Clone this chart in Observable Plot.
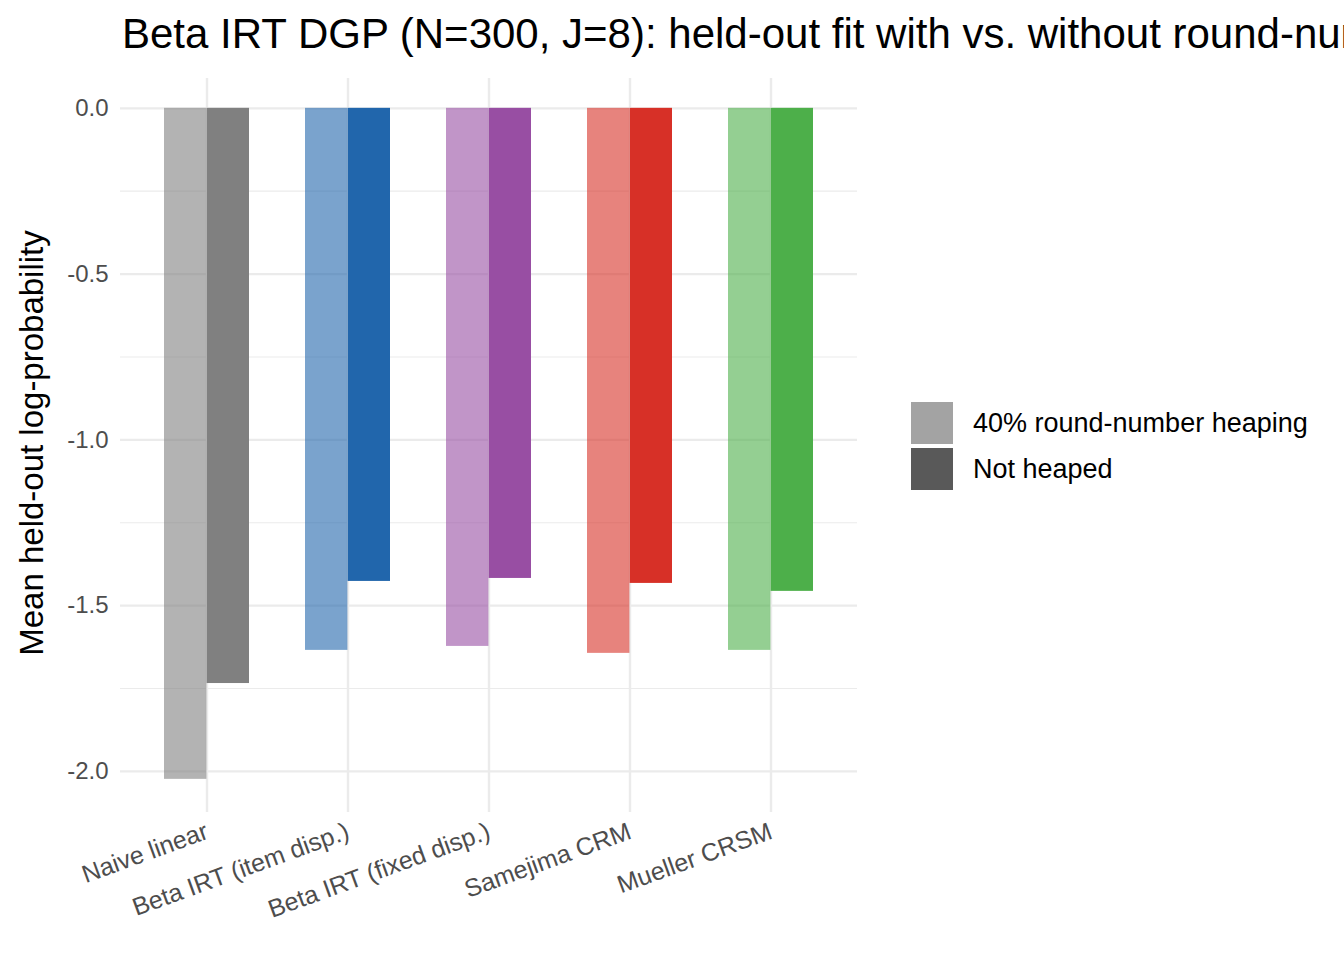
<!DOCTYPE html>
<html><head><meta charset="utf-8">
<script src="https://cdn.jsdelivr.net/npm/d3@7"></script>
<script src="https://cdn.jsdelivr.net/npm/@observablehq/plot@0.6"></script>
<style>
body{margin:0;background:#fff;font-family:"Liberation Sans",Arial,sans-serif;}
#wrap{position:relative;width:1344px;height:960px;overflow:hidden;}
#title{position:absolute;left:122px;top:10px;white-space:nowrap;color:#000;font-size:42px;}
#legend{position:absolute;left:911px;top:400px;font-size:27px;color:#000;}
.row{display:flex;align-items:center;height:46px;}
.sw{width:42px;height:42px;margin-right:20px;}
#chart{position:absolute;left:0;top:0;}
#ylab{position:absolute;left:32px;top:443px;transform:translate(-50%,-50%) rotate(-90deg);white-space:nowrap;font-size:33px;color:#000;}
</style></head><body>
<div id="wrap"><div id="chart"></div>
<div id="title">Beta IRT DGP (N=300, J=8): held-out fit with vs. without round-number heaping</div>
<div id="ylab">Mean held-out log-probability</div>
<div id="legend">
<div class="row"><div class="sw" style="background:#a3a3a3"></div>40% round-number heaping</div>
<div class="row"><div class="sw" style="background:#595959"></div>Not heaped</div>
</div></div>
<script>
const models = ["Naive linear","Beta IRT (item disp.)","Beta IRT (fixed disp.)","Samejima CRM","Mueller CRSM"];
const heapedVals = [-2.024,-1.635,-1.623,-1.644,-1.635];
const notHeapedVals = [-1.735,-1.427,-1.418,-1.433,-1.457];
const modelColors = ["#808080","#2166ac","#984ea3","#d73027","#4daf4a"];
const heaped = models.map((m,i)=>({model:m,value:heapedVals[i],color:modelColors[i]}));
const notHeaped = models.map((m,i)=>({model:m,value:notHeapedVals[i],color:modelColors[i]}));
const chart = Plot.plot({
  width:1344,height:960,
  marginLeft:120,marginRight:487,marginTop:78,marginBottom:148,
  style:{fontFamily:"Liberation Sans, Arial, sans-serif",color:"#4d4d4d"},
  x:{domain:models,paddingInner:0.4,paddingOuter:0.304,label:null},
  y:{domain:[-2.124,0.09],label:null},
  marks:[
    Plot.gridY([-0.25,-0.75,-1.25,-1.75],{stroke:"#ebebeb",strokeOpacity:1,strokeWidth:1.2}),
    Plot.gridY([0,-0.5,-1,-1.5,-2],{stroke:"#ebebeb",strokeOpacity:1,strokeWidth:2.4}),
    Plot.gridX({stroke:"#ebebeb",strokeOpacity:1,strokeWidth:2.4}),
    Plot.axisY([0,-0.5,-1,-1.5,-2],{tickSize:0,tickPadding:12,tickFormat:d=>d.toFixed(1),fontSize:24,fill:"#4d4d4d",label:null}),
    Plot.axisX({tickSize:0,tickRotate:-20,fontSize:25,fill:"#4d4d4d",label:null,tickPadding:18}),
    Plot.barY(heaped,{x:"model",y:"value",fill:d=>d.color,fillOpacity:0.6,insetRight:42.6}),
    Plot.barY(notHeaped,{x:"model",y:"value",fill:d=>d.color,insetLeft:42.6})
  ]
});
document.getElementById("chart").appendChild(chart);
</script></body></html>
